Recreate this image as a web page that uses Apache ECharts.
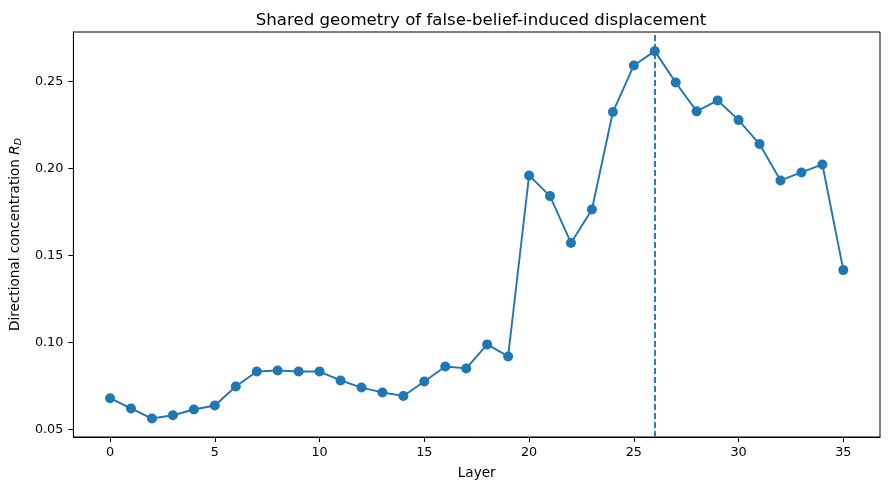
<!DOCTYPE html>
<html>
<head>
    <meta charset="utf-8">
    <title>Shared geometry of false-belief-induced displacement</title>
    <script src="https://cdn.jsdelivr.net/npm/echarts@6/dist/echarts.min.js"></script>
    <style>
        html, body { margin: 0; padding: 0; background: #fff; }
    </style>
</head>
<body>
<div id="main" style="width:889px;height:490px;"></div>

<script type="text/javascript">
    // layers and directional concentration values
    var layers = [0, 1, 2, 3, 4, 5, 6, 7, 8, 9, 10, 11, 12, 13, 14, 15, 16, 17,
        18, 19, 20, 21, 22, 23, 24, 25, 26, 27, 28, 29, 30, 31, 32, 33, 34, 35];
    var concentration = [0.0680, 0.0621, 0.0563, 0.0582, 0.0615, 0.0638, 0.0747, 0.0833,
        0.0839, 0.0833, 0.0833, 0.0782, 0.0741, 0.0713, 0.0693, 0.0776, 0.0862, 0.0851,
        0.0989, 0.0920, 0.1960, 0.1841, 0.1572, 0.1764, 0.2324, 0.2592, 0.2674, 0.2494,
        0.2328, 0.2391, 0.2278, 0.2140, 0.1931, 0.1977, 0.2023, 0.1416];
    var peakLayer = 26;
    var xTicks = [0, 5, 10, 15, 20, 25, 30, 35];
    var yTicks = [0.05, 0.10, 0.15, 0.20, 0.25];

    var points = layers.map(function (l, i) { return [l, concentration[i]]; });

    var myChart = echarts.init(document.getElementById('main'));
    var font = 'DejaVu Sans';

    var option = {
        animation: false,
        title: {
            text: 'Shared geometry of false-belief-induced displacement',
            left: 476, top: 7, textAlign: 'center',
            textStyle: {fontFamily: font, fontSize: 16.6, fontWeight: 'normal', color: '#000'}
        },
        grid: {
            left: 73, right: 9, top: 32, bottom: 53,
            show: true, borderColor: '#000', borderWidth: 1, backgroundColor: 'transparent'
        },
        xAxis: {
            type: 'value',
            min: -1.75, max: 36.75,
            name: 'Layer', nameLocation: 'middle', nameGap: 29,
            nameTextStyle: {fontFamily: font, fontSize: 13.6, color: '#000'},
            axisLine: {show: true, onZero: false, lineStyle: {color: '#000', width: 1}},
            axisTick: {show: true, length: 5, customValues: xTicks, lineStyle: {color: '#000'}},
            axisLabel: {customValues: xTicks, margin: 9, fontFamily: font, fontSize: 12.8, color: '#000'},
            splitLine: {show: false}
        },
        yAxis: {
            type: 'value',
            min: 0.0457, max: 0.2784,
            name: '{a|Directional concentration }{i|R}{s|D}',
            nameLocation: 'middle', nameGap: 48, nameRotate: 90,
            nameTextStyle: {
                rich: {
                    a: {fontFamily: font, fontSize: 13.6, color: '#000', lineHeight: 18},
                    i: {fontFamily: font, fontSize: 13.6, fontStyle: 'italic', color: '#000', lineHeight: 18},
                    s: {fontFamily: font, fontSize: 9.5, fontStyle: 'italic', color: '#000', verticalAlign: 'bottom', lineHeight: 18, padding: [5, 0, 0, 0]}
                }
            },
            axisLine: {show: true, onZero: false, lineStyle: {color: '#000', width: 1}},
            axisTick: {show: true, length: 5, customValues: yTicks, lineStyle: {color: '#000'}},
            axisLabel: {
                customValues: yTicks, margin: 10, fontFamily: font, fontSize: 12.8, color: '#000',
                formatter: function (v) { return v.toFixed(2); }
            },
            splitLine: {show: false}
        },
        series: [{
            type: 'line',
            data: points,
            symbol: 'circle',
            symbolSize: 10,
            lineStyle: {color: '#1f77b4', width: 1.9},
            itemStyle: {color: '#1f77b4'},
            markLine: {
                silent: true,
                symbol: ['none', 'none'],
                label: {show: false},
                lineStyle: {color: '#1f77b4', type: [6, 3], width: 1.9},
                data: [{xAxis: peakLayer}]
            }
        }]
    };
    myChart.setOption(option);
</script>
</body>
</html>
